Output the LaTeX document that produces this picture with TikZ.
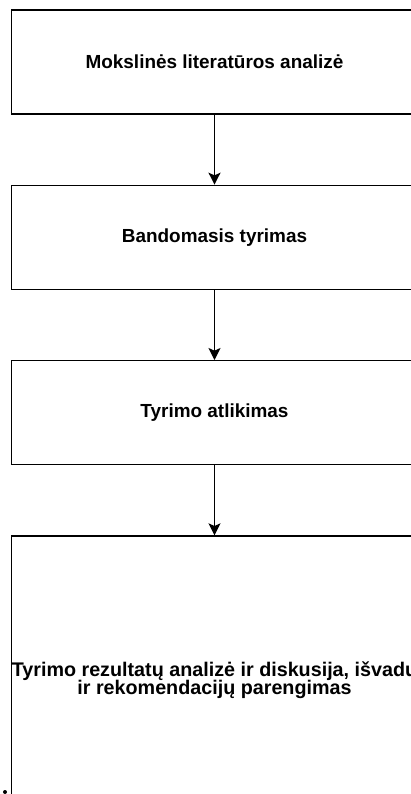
\documentclass[tikz,border=0pt]{standalone}
\usepackage{fontspec}
\setmainfont{Liberation Sans}
\usetikzlibrary{arrows.meta,positioning}

\begin{document}
\begin{tikzpicture}[
  x=0.75pt,y=-0.75pt,
  node distance=52.5pt,
  step box/.style={rectangle,draw=black,line width=1pt,fill=white,
    minimum width=304.5pt,minimum height=78pt,align=center,
    font=\fontsize{14.2}{13.5}\selectfont\bfseries},
  last box/.style={step box,minimum height=216pt},
  wide text/.style={align=center,inner sep=0pt,
    font=\fontsize{14.8}{13.8}\selectfont\bfseries},
  flow/.style={black,line width=1pt,-{Stealth[width=9pt,length=9pt,inset=2pt]}}]
  \useasboundingbox (0,0) rectangle (411,794);
  \clip (0,0) rectangle (411,794);
  \node[step box] (lit) at (214.5,62) {Mokslinės literatūros analizė};
  \node[step box,below=of lit] (band) {Bandomasis tyrimas};
  \node[step box,below=of band] (atl) {Tyrimo atlikimas};
  \node[last box,below=of atl] (rez) {};
  \node[wide text] (reztxt) at (rez.center) {Tyrimo rezultatų analizė ir diskusija, išvadų\\ir rekomendacijų parengimas};
  \draw[flow] (lit) -- (band);
  \draw[flow] (band) -- (atl);
  \draw[flow] (atl) -- (rez);
  \fill (5,792) circle (2);
\end{tikzpicture}
\end{document}
